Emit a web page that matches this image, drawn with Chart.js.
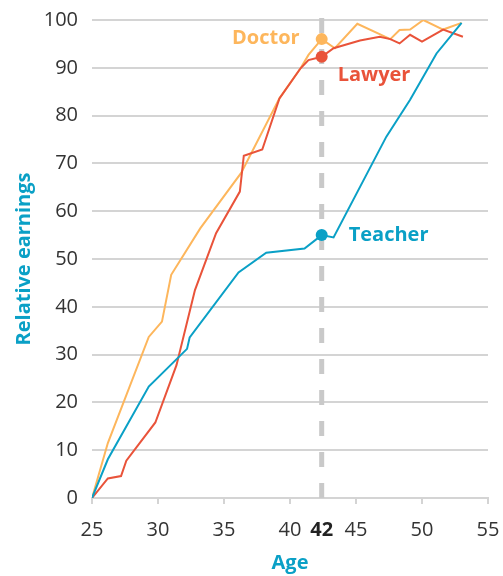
<!DOCTYPE html>
<html>
<head>
<meta charset="utf-8">
<script src="https://cdn.jsdelivr.net/npm/chart.js@4"></script>
<style>
  html, body { margin: 0; padding: 0; background: #fff; }
  #wrap { width: 503px; height: 576px; }
</style>
</head>
<body>
<div id="wrap"><canvas id="chart" width="503" height="576"></canvas></div>
<script>
// ages (x), relative earnings (y)
const doctorAges = [25, 26.2, 29.3, 30.3, 31.0, 33.2, 36.3, 39.2, 40.8, 41.4, 42.4, 43.4, 45.1, 47.6, 48.3, 49.1, 50.1, 51.6, 53.0];
const doctorEarnings = [0, 11.5, 33.7, 36.9, 46.7, 56.4, 68, 83.6, 89.9, 92.7, 96, 94.1, 99.2, 96, 97.9, 98, 100, 98, 99.4];

const lawyerAges = [25, 26.2, 27.2, 27.6, 29.8, 31.4, 32.8, 34.4, 36.2, 36.5, 37.9, 39.2, 40.8, 41.4, 42.4, 43.3, 45.3, 46.8, 47.6, 48.3, 49.1, 50.0, 51.6, 53.1];
const lawyerEarnings = [0, 4.1, 4.6, 7.8, 15.8, 27.8, 43.5, 55.4, 64.1, 71.6, 72.9, 83.6, 89.9, 91.6, 92.3, 94.1, 95.7, 96.5, 96.0, 95.1, 96.9, 95.5, 98, 96.5];

const teacherAges = [25, 26.2, 29.3, 32.2, 32.4, 36.1, 38.2, 41.1, 42.4, 43.3, 47.3, 49.1, 51.1, 53.0];
const teacherEarnings = [0, 8.1, 23.3, 31.2, 33.6, 47.2, 51.3, 52.2, 55, 54.5, 75.6, 83.3, 93, 99.4];

const xTicks = [25, 30, 35, 40, 45, 50, 55];
const markerAge = 42.4;   // where the dashed line sits in the picture
const markerLabel = '42';

const teal = '#0aa0c6';
const orange = '#fdb65c';
const red = '#e9533a';
const FONT = '"Open Sans", sans-serif';

function pts(xs, ys) {
    return xs.map((x, i) => ({ x: x, y: ys[i] }));
}

function markerRadius(ctx) {
    return ctx.raw && ctx.raw.x === markerAge ? 6 : 0;
}

const series = [
    { label: 'Teacher', data: pts(teacherAges, teacherEarnings), color: teal, dx: 27, dy: 0, align: 'left' },
    { label: 'Lawyer', data: pts(lawyerAges, lawyerEarnings), color: red, dx: 16, dy: 18, align: 'left' },
    { label: 'Doctor', data: pts(doctorAges, doctorEarnings), color: orange, dx: -22, dy: -1, align: 'right' }
];

const dashLine = {
    id: 'dashLine',
    beforeDatasetsDraw(chart) {
        const c = chart.ctx;
        const x = chart.scales.x.getPixelForValue(markerAge);
        c.save();
        c.strokeStyle = '#c9c9c9';
        c.lineWidth = 5;
        c.setLineDash([15, 16]);
        c.beginPath();
        c.moveTo(x, chart.chartArea.top - 2);
        c.lineTo(x, chart.chartArea.bottom);
        c.stroke();
        c.restore();
    }
};

const seriesLabels = {
    id: 'seriesLabels',
    afterDatasetsDraw(chart) {
        const c = chart.ctx;
        const xs = chart.scales.x, ys = chart.scales.y;
        c.save();
        c.font = 'bold 20px ' + FONT;
        c.textBaseline = 'middle';
        series.forEach(s => {
            const p = s.data.find(d => d.x === markerAge);
            c.fillStyle = s.color;
            c.textAlign = s.align;
            c.fillText(s.label, xs.getPixelForValue(p.x) + s.dx, ys.getPixelForValue(p.y) + s.dy);
        });
        c.restore();
    }
};

new Chart(document.getElementById('chart'), {
    type: 'line',
    data: {
        datasets: series.map(s => ({
            label: s.label,
            data: s.data,
            borderColor: s.color,
            backgroundColor: s.color,
            borderWidth: 2,
            tension: 0,
            fill: false,
            pointRadius: markerRadius,
            pointBorderWidth: 0,
            pointHoverRadius: markerRadius
        }))
    },
    options: {
        responsive: false,
        animation: false,
        layout: { padding: { left: 0, right: 15, top: 20, bottom: 0 } },
        plugins: {
            legend: { display: false },
            tooltip: { enabled: false }
        },
        scales: {
            x: {
                type: 'linear',
                min: 25,
                max: 55,
                afterBuildTicks: function(scale) {
                    scale.ticks = xTicks.concat([markerAge]).sort((a, b) => a - b).map(v => ({ value: v }));
                },
                afterFit: function(scale) {
                    scale.height = 78;
                    scale.paddingLeft = 0;
                    scale.paddingRight = 0;
                },
                ticks: {
                    autoSkip: false,
                    maxRotation: 0,
                    padding: 14,
                    color: function(ctx) { return ctx.tick && ctx.tick.value === markerAge ? '#222' : '#333'; },
                    font: function(ctx) {
                        const bold = ctx.tick && ctx.tick.value === markerAge;
                        return { family: FONT, size: 20, weight: bold ? 'bold' : 'normal' };
                    },
                    callback: function(value) { return value === markerAge ? markerLabel : value; }
                },
                grid: {
                    drawOnChartArea: false,
                    tickLength: 6,
                    lineWidth: 2,
                    color: function(ctx) { return ctx.tick && ctx.tick.value === markerAge ? 'rgba(0,0,0,0)' : '#d4d4d4'; }
                },
                border: { display: true, color: '#d4d4d4', width: 2 },
                title: {
                    display: true,
                    text: 'Age',
                    color: teal,
                    font: { family: FONT, size: 20, weight: 'bold' },
                    padding: { top: 0, bottom: 1 }
                }
            },
            y: {
                min: 0,
                max: 100,
                afterFit: function(scale) {
                    scale.width = 92;
                    scale.paddingTop = 0;
                    scale.paddingBottom = 0;
                },
                ticks: {
                    stepSize: 10,
                    padding: 14,
                    color: '#333',
                    font: { family: FONT, size: 20 }
                },
                grid: {
                    drawTicks: false,
                    lineWidth: 2,
                    color: '#d4d4d4'
                },
                border: { display: false },
                title: {
                    display: true,
                    text: 'Relative earnings',
                    color: teal,
                    font: { family: FONT, size: 20, weight: 'bold' },
                    padding: { top: 12, bottom: 0 }
                }
            }
        }
    },
    plugins: [dashLine, seriesLabels]
});
</script>
</body>
</html>
